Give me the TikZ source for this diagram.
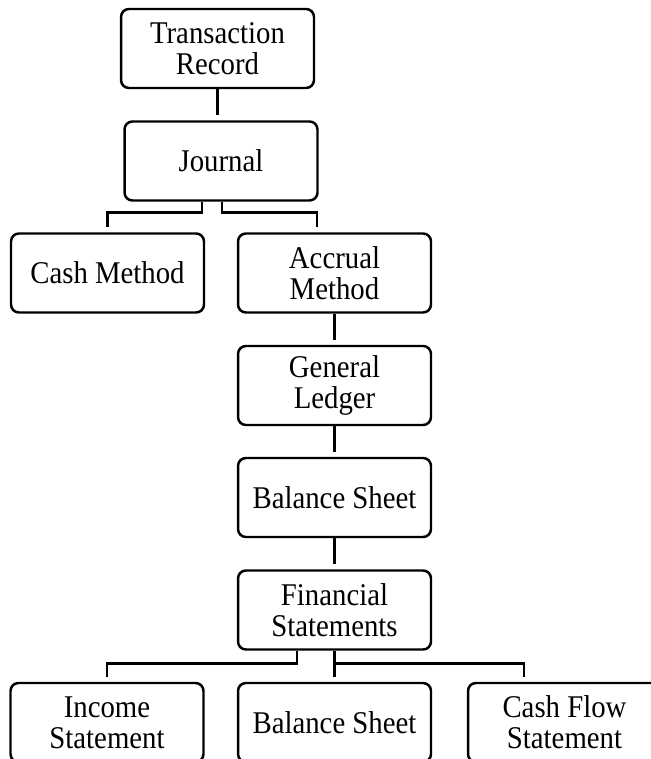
\documentclass[tikz,border=0pt]{standalone}
\usepackage{fontspec}
\setmainfont{Liberation Serif}[FakeStretch=0.91]
\usetikzlibrary{calc,positioning}
\tikzstyle{stage}=[rectangle,draw,rounded corners=4.5pt,line width=1.4pt,
  minimum width=3.86cm,minimum height=1.58cm,inner sep=0,align=center,
  font=\fontsize{18}{17.6}\selectfont]
\tikzstyle{link}=[line width=1.4pt,shorten >=0.1cm]

\begin{document}
\begin{tikzpicture}[x=0.02cm,y=-0.02cm]
    \useasboundingbox (0,0) rectangle (651,759);
    \clip (0,0) rectangle (651,759);

    \node [stage] (trans) at (217.5,48.5) {Transaction\\Record};
    \node [stage] (jour) at (221,161) {Journal};

    \node [stage] (cash) at (107.5,273) {Cash Method};
    \node [stage] (accr) at (334.5,273) {Accrual\\Method};
    \node [stage] (gl) at (334.5,385.5) {General\\Ledger};
    \node [stage] (bs) at (334.5,497.5) {Balance Sheet};
    \node [stage] (fs) at (334.5,610) {Financial\\Statements};

    \node [stage] (is) at (107,722.5) {Income\\Statement};
    \node [stage] (bs2) at (334.5,722.5) {Balance Sheet};
    \node [stage] (cf) at (564.5,722.5) {Cash Flow\\Statement};

    % top chain
    \draw [link] (trans.south) -- (trans.south |- jour.north);

    % split after the journal
    \draw [link] ($(jour.south)+(-19,0)$) -- ++(0,11) -| (cash.north);
    \draw [link] ($(jour.south)+(1,0)$) -- ++(0,11) -| ($(accr.north)+(-17.5,0)$);

    % accrual chain
    \draw [link] (accr.south) -- (gl.north);
    \draw [link] (gl.south) -- (bs.north);
    \draw [link] (bs.south) -- (fs.north);

    % statements
    \draw [link] ($(fs.south)+(-37.5,0)$) -- ++(0,13) -| (is.north);
    \draw [link] (fs.south) -- (bs2.north);
    \draw [link] ($(fs.south)+(0,13)$) -| ($(cf.north)+(-40.5,0)$);
  \end{tikzpicture}
\end{document}
